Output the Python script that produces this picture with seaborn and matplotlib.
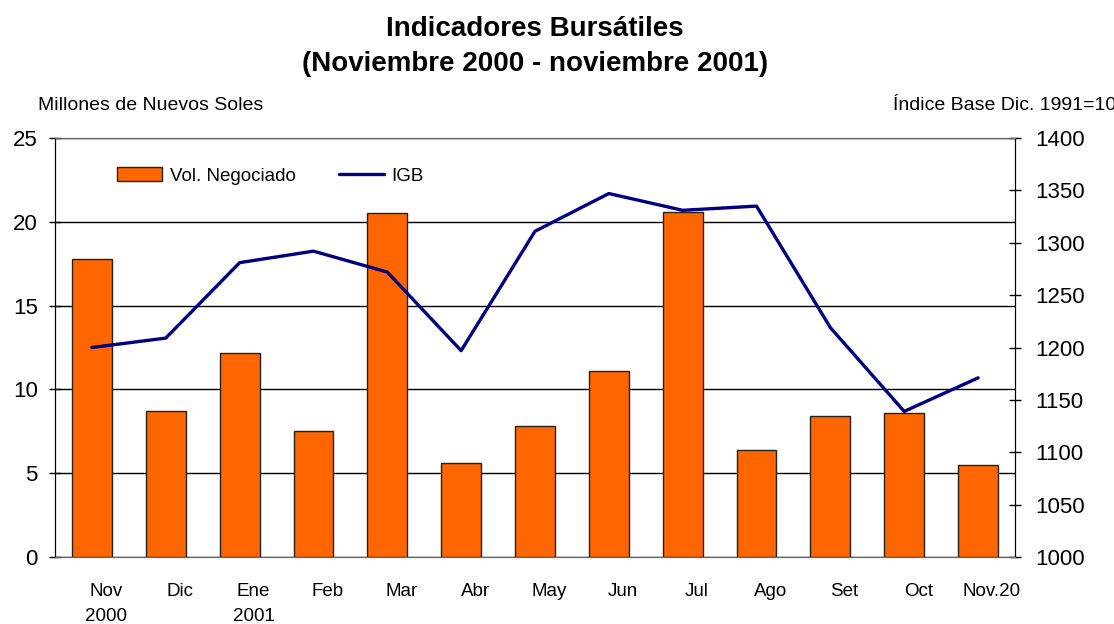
import numpy as np
import pandas as pd
import matplotlib
matplotlib.use('Agg')
import matplotlib.pyplot as plt
import matplotlib.transforms as mtransforms
import seaborn as sns

# data
meses = ['Nov\n2000', 'Dic', 'Ene\n2001', 'Feb', 'Mar', 'Abr', 'May',
         'Jun', 'Jul', 'Ago', 'Set', 'Oct', 'Nov.20']
vol_negociado = [17.8, 8.7, 12.2, 7.5, 20.5, 5.6, 7.8, 11.1, 20.6, 6.4, 8.4, 8.6, 5.5]
igb = [1200, 1209, 1281, 1292, 1272, 1197, 1311, 1347, 1331, 1335, 1219, 1139, 1171]

df = pd.DataFrame({'mes': meses, 'vol': vol_negociado, 'igb': igb})

sns.set_style('white')
plt.rcParams['font.family'] = ['Liberation Sans', 'DejaVu Sans']
plt.rcParams['text.color'] = 'black'
plt.rcParams['xtick.color'] = 'black'
plt.rcParams['ytick.color'] = 'black'

fig = plt.figure(figsize=(11.14, 6.24), dpi=100)
ax = fig.add_axes([0.0494, 0.1074, 0.8617, 0.6714])

sns.barplot(data=df, x='mes', y='vol', color='#FF6600', saturation=1,
            edgecolor='#222222', linewidth=1, width=0.54, ax=ax,
            label='Vol. Negociado')
ax.set_ylim(0, 25)
ax.set_yticks([0, 5, 10, 15, 20, 25])
ax.set_axisbelow(True)
ax.yaxis.grid(True, color='black', lw=1)
ax.set_xlabel('')
ax.set_ylabel('')

ax2 = ax.twinx()
sns.lineplot(data=df, x='mes', y='igb', color='#000080', lw=2.4, ax=ax2,
             label='IGB', sort=False)
ax2.set_ylim(1000, 1400)
ax2.set_yticks(range(1000, 1401, 50))
ax2.set_ylabel('')
ax.set_xlim(-0.5, 12.5)

for a in (ax, ax2):
    for s in ('top', 'bottom'):
        a.spines[s].set_color('#666666')
    a.spines['left'].set_color('black')
    a.spines['right'].set_color('black')
ax.tick_params(axis='y', direction='inout', length=9, width=1, labelsize=16, left=True, pad=8)
ax2.tick_params(axis='y', direction='inout', length=9, width=1, labelsize=16, right=True, pad=10)
ax.tick_params(axis='x', length=0, labelsize=13.5, pad=19)

# category labels sit a bit right of the bar centres, as in the reference
offset = mtransforms.ScaledTranslation(0.14, 0, fig.dpi_scale_trans)
for lab in ax.get_xticklabels():
    lab.set_transform(lab.get_transform() + offset)
    lab.set_verticalalignment('top')
    lab.set_linespacing(1.6)

h1, l1 = ax.get_legend_handles_labels()
h2, l2 = ax2.get_legend_handles_labels()
if ax2.get_legend():
    ax2.get_legend().remove()
if ax.get_legend():
    ax.get_legend().remove()
ax2.legend(h1 + h2, l1 + l2, ncol=2, frameon=False, fontsize=13.5,
           loc='upper left', bbox_to_anchor=(0.047, 0.97), columnspacing=2.3,
           handlelength=2.4, handletextpad=0.4)

fig.text(535 / 1114, 0.975, 'Indicadores Bursátiles\n(Noviembre 2000 - noviembre 2001)',
         ha='center', va='top', fontsize=20, fontweight='bold', linespacing=1.45)
fig.text(38 / 1114, 1 - 106 / 624, 'Millones de Nuevos Soles', ha='left', va='center', fontsize=14)
fig.text(893 / 1114, 1 - 106 / 624, 'Índice Base Dic. 1991=100', ha='left', va='center', fontsize=14)

fig.savefig('out.png', dpi=100)
